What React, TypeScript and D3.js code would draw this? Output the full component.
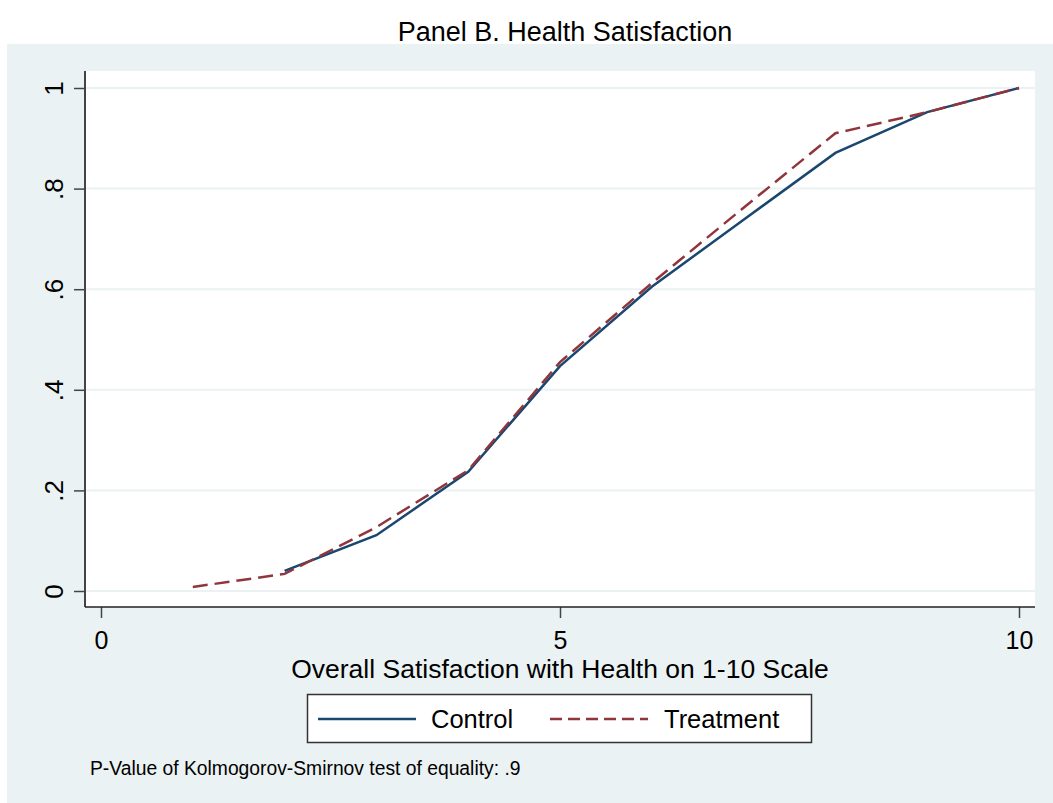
import React, { useRef, useEffect } from "react";
import * as d3 from "d3";

const scores = [1, 2, 3, 4, 5, 6, 7, 8, 9, 10];
const controlCdf = [null, 0.04, 0.111, 0.237, 0.447, 0.605, 0.738, 0.871, 0.952, 1];
const treatmentCdf = [0.008, 0.034, 0.127, 0.24, 0.455, 0.612, 0.762, 0.91, 0.952, 1];
const xTicks = [0, 5, 10];
const yTicks = [0, 0.2, 0.4, 0.6, 0.8, 1];
const yTickLabels = ["0", ".2", ".4", ".6", ".8", "1"];

const W = 1053;
const H = 803;
const bg = "#eaf2f3";
const navy = "#1a476f";
const maroon = "#90353b";
const font = "'Liberation Sans', Arial, sans-serif";

const App = () => {
  const ref = useRef<SVGSVGElement>(null);

  useEffect(() => {
    const svg = d3.select(ref.current);
    svg.selectAll("*").remove();

    const plot = { left: 85, right: 1035, top: 71, bottom: 607 };

    const x = d3.scaleLinear().domain([0, 10]).range([101, 1019]);
    const y = d3.scaleLinear().domain([0, 1]).range([591, 88]);

    // outer background
    svg.append("rect").attr("x", 7).attr("y", 44).attr("width", W - 7).attr("height", H - 44).attr("fill", bg);
    svg
      .append("rect")
      .attr("x", plot.left)
      .attr("y", plot.top)
      .attr("width", plot.right - plot.left)
      .attr("height", plot.bottom - plot.top)
      .attr("fill", "#fff");

    // gridlines
    svg
      .selectAll(".grid")
      .data(yTicks)
      .enter()
      .append("line")
      .attr("x1", plot.left)
      .attr("x2", plot.right)
      .attr("y1", (d) => y(d))
      .attr("y2", (d) => y(d))
      .attr("stroke", bg)
      .attr("stroke-width", 2);

    // y axis
    const yAxis = svg
      .append("g")
      .attr("transform", `translate(${plot.left},0)`)
      .call(
        d3
          .axisLeft(y)
          .tickValues(yTicks)
          .tickSize(11)
          .tickSizeOuter(0)
          .tickFormat((d, i) => yTickLabels[i])
      );
    yAxis.select(".domain").remove();
    yAxis.selectAll(".tick line").attr("stroke", "#444").attr("stroke-width", 1.5);
    yAxis
      .selectAll(".tick text")
      .attr("x", null)
      .attr("dy", null)
      .attr("text-anchor", "middle")
      .attr("transform", `translate(-22,0) rotate(-90)`)
      .attr("font-family", font)
      .attr("font-size", 26)
      .attr("fill", "#000");
    svg
      .append("line")
      .attr("x1", plot.left)
      .attr("x2", plot.left)
      .attr("y1", plot.top)
      .attr("y2", plot.bottom)
      .attr("stroke", "#444")
      .attr("stroke-width", 2);

    // x axis
    const xAxis = svg
      .append("g")
      .attr("transform", `translate(0,${plot.bottom})`)
      .call(d3.axisBottom(x).tickValues(xTicks).tickSize(11).tickSizeOuter(0).tickFormat(d3.format("d")));
    xAxis.select(".domain").remove();
    xAxis.selectAll(".tick line").attr("stroke", "#444").attr("stroke-width", 1.5);
    xAxis
      .selectAll(".tick text")
      .attr("y", 42)
      .attr("dy", null)
      .attr("font-family", font)
      .attr("font-size", 25)
      .attr("fill", "#000");
    svg
      .append("line")
      .attr("x1", plot.left)
      .attr("x2", plot.right)
      .attr("y1", plot.bottom)
      .attr("y2", plot.bottom)
      .attr("stroke", "#222")
      .attr("stroke-width", 1.5);

    // lines
    const line = d3
      .line<number | null>()
      .defined((d) => d !== null)
      .x((d, i) => x(scores[i]))
      .y((d) => y(d as number));

    svg
      .append("path")
      .datum(controlCdf)
      .attr("d", line)
      .attr("fill", "none")
      .attr("stroke", navy)
      .attr("stroke-width", 2.5);

    svg
      .append("path")
      .datum(treatmentCdf)
      .attr("d", line)
      .attr("fill", "none")
      .attr("stroke", maroon)
      .attr("stroke-width", 2.5)
      .attr("stroke-dasharray", "15,7");

    // titles
    svg
      .append("text")
      .attr("x", 565)
      .attr("y", 41)
      .attr("text-anchor", "middle")
      .attr("font-family", font)
      .attr("font-size", 27)
      .text("Panel B. Health Satisfaction");

    svg
      .append("text")
      .attr("x", 560)
      .attr("y", 678)
      .attr("text-anchor", "middle")
      .attr("font-family", font)
      .attr("font-size", 26.5)
      .text("Overall Satisfaction with Health on 1-10 Scale");

    // legend
    const lg = svg.append("g");
    lg.append("rect")
      .attr("x", 307.5)
      .attr("y", 694.5)
      .attr("width", 504)
      .attr("height", 48)
      .attr("fill", "#fff")
      .attr("stroke", "#333")
      .attr("stroke-width", 1.5);
    lg.append("line")
      .attr("x1", 318)
      .attr("x2", 416)
      .attr("y1", 719)
      .attr("y2", 719)
      .attr("stroke", navy)
      .attr("stroke-width", 2.5);
    lg.append("text")
      .attr("x", 431)
      .attr("y", 728)
      .attr("font-family", font)
      .attr("font-size", 25.5)
      .text("Control");
    lg.append("line")
      .attr("x1", 550)
      .attr("x2", 648)
      .attr("y1", 719)
      .attr("y2", 719)
      .attr("stroke", maroon)
      .attr("stroke-width", 2.5)
      .attr("stroke-dasharray", "12,6");
    lg.append("text")
      .attr("x", 664)
      .attr("y", 728)
      .attr("font-family", font)
      .attr("font-size", 25.5)
      .text("Treatment");

    // note
    svg
      .append("text")
      .attr("x", 90)
      .attr("y", 775)
      .attr("font-family", font)
      .attr("font-size", 19.3)
      .text("P-Value of Kolmogorov-Smirnov test of equality: .9");
  }, []);

  return (
    <svg
      ref={ref}
      width={W}
      height={H}
      style={{ position: "absolute", left: 0, top: 0, background: "#fff" }}
    />
  );
};

export default App;
